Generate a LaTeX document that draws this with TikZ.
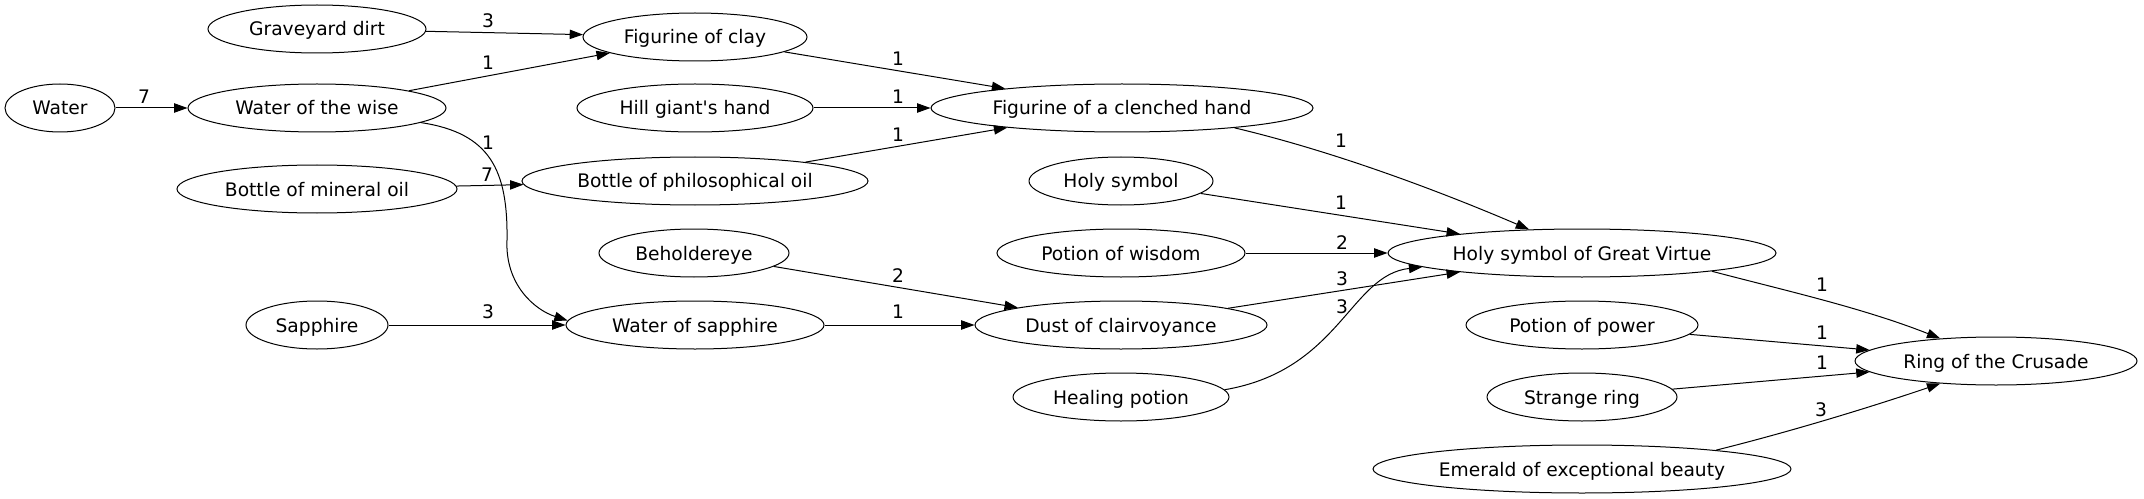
\documentclass[tikz,border=0pt]{standalone}
\usepackage{fontspec}
\newfontfamily\dejavu{DejaVu Sans}
\usetikzlibrary{arrows.meta,shapes.geometric}
\begin{document}
\begin{tikzpicture}[x=0.75pt, y=-0.75pt, line width=0.75pt, font=\dejavu\fontsize{14}{17}\selectfont, >={Triangle[length=10pt,width=7pt]},
	item/.style={draw, ellipse, inner sep=0pt, minimum height=36pt, text height=11pt, text depth=0.5pt, minimum width={1.5pt*#1}}]
	\useasboundingbox (0,0) rectangle (2144,499);
	\node[item=55] (water) at (60,108) {Water};
	\node[item=129] (wise) at (317,108) {Water of the wise};
	\node[item=109] (grave) at (317,29) {Graveyard dirt};
	\node[item=140] (mineral) at (317,189) {Bottle of mineral oil};
	\node[item=71] (sapphire) at (317,325) {Sapphire};
	\node[item=112] (clay) at (695,37) {Figurine of clay};
	\node[item=118] (hill) at (695,108) {Hill giant's hand};
	\node[item=173] (philo) at (695,181) {Bottle of philosophical oil};
	\node[item=95] (beholder) at (694,253) {Beholdereye};
	\node[item=129] (wsapphire) at (695,325) {Water of sapphire};
	\node[item=191] (clenched) at (1122,108) {Figurine of a clenched hand};
	\node[item=92] (holy) at (1121,181) {Holy symbol};
	\node[item=124] (wisdom) at (1121,253) {Potion of wisdom};
	\node[item=146] (dust) at (1121,325) {Dust of clairvoyance};
	\node[item=108] (healing) at (1121,397) {Healing potion};
	\node[item=194] (virtue) at (1582,253) {Holy symbol of Great Virtue};
	\node[item=116] (power) at (1582,325) {Potion of power};
	\node[item=95] (strange) at (1582,397) {Strange ring};
	\node[item=209] (emerald) at (1582,469) {Emerald of exceptional beauty};
	\node[item=141] (ring) at (1996,361) {Ring of the Crusade};
	\foreach \a/\b in {water/wise, grave/clay, wise/clay, mineral/philo, sapphire/wsapphire, clay/clenched, hill/clenched, philo/clenched, beholder/dust, wsapphire/dust, holy/virtue, wisdom/virtue, dust/virtue, power/ring, strange/ring}
	\draw[->] (\a) -- (\b);
	\draw[->] (wise.-8) .. controls (490,133) and (508,170) .. (507,240) .. controls (505,285) and (535,310) .. (wsapphire.178);
	\draw[->] (clenched.-10) .. controls (1341,153) and (1451,196) .. (virtue.156);
	\draw[->] (healing.4) .. controls (1340,370) and (1350,275) .. (virtue.185);
	\draw[->] (virtue.-8) .. controls (1787,291) and (1863,308) .. (ring.158);
	\draw[->] (emerald.8) .. controls (1789,432) and (1868,408) .. (ring.202);
	\foreach \x/\y/\t [count=\i] in {144/97/7, 488/21/3, 488/63/1, 488/143/1, 487/175/7, 488/312/3, 898/59/1, 898/97/1, 898/135/1, 898/276/2, 898/312/1, 1341/141/1, 1341/203/1, 1342/243/2, 1342/279/3, 1342/307/3, 1822/285/1, 1822/333/1, 1822/363/1, 1821/410/3}
	\node[inner sep=0pt] (w\i) at (\x,\y) {\t};
\end{tikzpicture}
\end{document}
